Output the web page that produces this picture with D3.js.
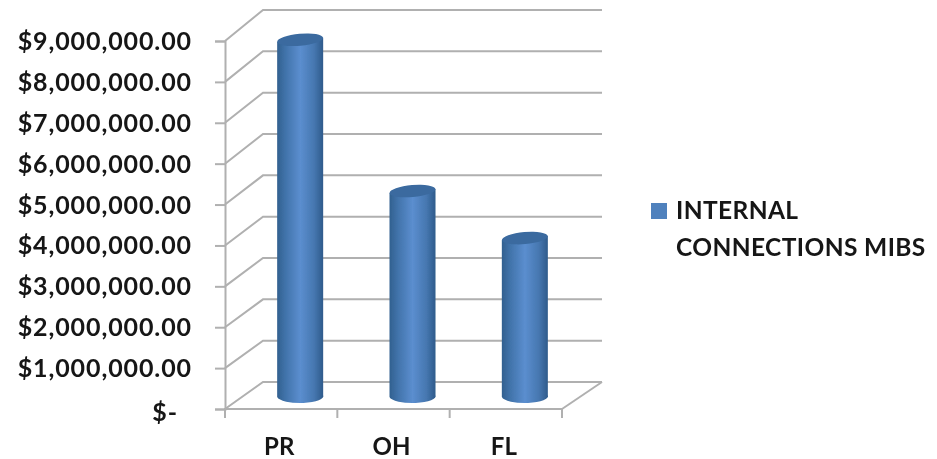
<!DOCTYPE html>
<html lang="en">
<head>
  <meta charset="UTF-8">
  <title>Internal Connections MIBS</title>
  <script src="https://d3js.org/d3.v7.min.js"></script>
  <style>
    html, body { margin: 0; padding: 0; background: #fff; }
    svg { display: block; }
    text { font-family: Lato, sans-serif; font-weight: 700; fill: #141414; }
    .wall { fill: none; stroke: #b0b0b0; stroke-width: 2px; }
    .axis .domain, .axis line { stroke: #b0b0b0; stroke-width: 2px; }
  </style>
</head>
<body>
  <svg width="937" height="459"></svg>
  <script>
    const categories = ["PR", "OH", "FL"];
    const seriesName = ["INTERNAL", "CONNECTIONS MIBS"];
    const seriesValues = [8700000, 5000000, 3850000];
    const yTicks = [0, 1000000, 2000000, 3000000, 4000000, 5000000, 6000000, 7000000, 8000000, 9000000];
    const yTickLabels = ["$-", "$1,000,000.00", "$2,000,000.00", "$3,000,000.00", "$4,000,000.00",
      "$5,000,000.00", "$6,000,000.00", "$7,000,000.00", "$8,000,000.00", "$9,000,000.00"];

    const svg = d3.select("svg");

    // front plane of the 3d box, back wall has its own slightly taller scale
    const x = d3.scaleBand().domain(categories).range([225, 562]);
    const y = d3.scaleLinear().domain([0, 9000000]).range([409, 41]);
    const yBack = d3.scaleLinear().domain([0, 9000000]).range([382, 10]);
    const depthX = 38, depthY = -27;
    const barDepth = 0.5;
    const barW = 46, capRy = 7;

    const defs = svg.append("defs");
    const soft = defs.append("filter").attr("id", "soft");
    soft.append("feGaussianBlur").attr("stdDeviation", 0.6);

    const side = defs.append("linearGradient").attr("id", "cyl");
    [[0, "#31608f"], [0.18, "#4173aa"], [0.5, "#5b8ecf"], [0.8, "#4677b0"], [1, "#2e5a8a"]]
      .forEach(s => side.append("stop").attr("offset", s[0]).attr("stop-color", s[1]));

    const chart = svg.append("g").attr("filter", "url(#soft)");

    // gridlines on the side and back walls
    chart.append("g").selectAll("path").data(yTicks).enter().append("path")
      .attr("class", "wall")
      .attr("d", d => {
        const p = d3.path();
        p.moveTo(x.range()[0], y(d));
        p.lineTo(x.range()[0] + depthX, yBack(d));
        p.lineTo(x.range()[1] + depthX + 2, yBack(d));
        return p.toString();
      });

    // floor right edge
    chart.append("path").attr("class", "wall")
      .attr("d", () => {
        const p = d3.path();
        p.moveTo(x.range()[1], y(0));
        p.lineTo(x.range()[1] + depthX + 2, yBack(0));
        return p.toString();
      });

    const yAxis = d3.axisLeft(y)
      .tickValues(yTicks)
      .tickSize(10)
      .tickPadding(23)
      .tickFormat((d, i) => yTickLabels[i]);

    const gy = chart.append("g").attr("class", "axis")
      .attr("transform", `translate(${x.range()[0]},0)`)
      .call(yAxis);
    gy.selectAll("text")
      .style("font-family", "Lato, sans-serif")
      .style("font-size", "25px")
      .style("letter-spacing", "0.9px")
      .attr("dy", "0.34em");
    gy.selectAll(".tick").filter(d => d === 0).select("text")
      .attr("dx", -14)
      .attr("dy", "0.46em");

    const xAxis = d3.axisBottom(x).tickSize(0).tickPadding(29);
    const gx = chart.append("g").attr("class", "axis")
      .attr("transform", `translate(0,${y(0)})`)
      .call(xAxis);
    gx.select(".domain").attr("d", `M${x.range()[0]},9V0H${x.range()[1]}V9`);
    gx.selectAll("text")
      .style("font-family", "Lato, sans-serif")
      .style("font-size", "24px")
      .attr("dx", -2);
    gx.selectAll(".sep").data(x.domain().slice(1)).enter().append("line")
      .attr("class", "sep")
      .attr("x1", d => x(d)).attr("x2", d => x(d))
      .attr("y1", 0).attr("y2", 9);

    // cylinders
    const bars = chart.append("g").selectAll("g").data(seriesValues).enter().append("g")
      .attr("transform", (d, i) => {
        const cx = x(categories[i]) + x.bandwidth() / 2 + depthX * barDepth;
        return `translate(${cx},${depthY * barDepth})`;
      });

    bars.append("path")
      .attr("fill", "url(#cyl)")
      .attr("d", d => {
        const r = barW / 2;
        return `M${-r},${y(d) + 2}L${-r},${y(0) + 1.5}` +
          `A${r},${capRy} 0 0 0 ${r},${y(0) - 0.5}` +
          `L${r},${y(d) - 2}Z`;
      });

    bars.append("ellipse")
      .attr("cx", 0)
      .attr("cy", d => y(d))
      .attr("rx", barW / 2)
      .attr("ry", capRy - 1)
      .attr("fill", "#3a6a9f")
      .attr("transform", d => `rotate(-5 0 ${y(d)})`);

    // legend
    const legend = chart.append("g");
    legend.append("rect")
      .attr("x", 651).attr("y", 203).attr("width", 16).attr("height", 16)
      .attr("fill", "#4f81bd");
    legend.selectAll("text").data(seriesName).enter().append("text")
      .attr("x", 676)
      .attr("y", (d, i) => 219 + i * 37)
      .attr("font-size", 24.5)
      .attr("letter-spacing", 0.4)
      .text(d => d);
  </script>
</body>
</html>
